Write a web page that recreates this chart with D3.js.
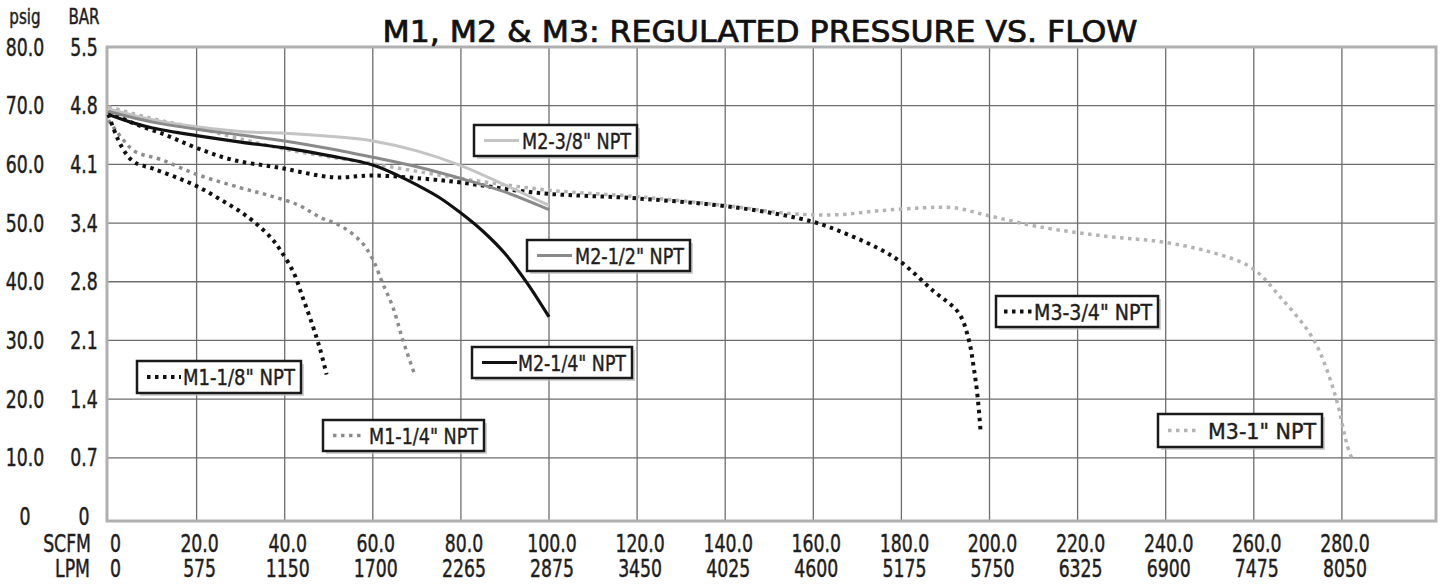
<!DOCTYPE html>
<html><head><meta charset="utf-8">
<script src="https://cdn.jsdelivr.net/npm/d3@7"></script>
<style>body{margin:0;background:#fff} svg{display:block}</style>
</head><body><svg id="c" width="1442" height="584"></svg>
<script>
// ---------- data ----------
const psigTicks = [0,10,20,30,40,50,60,70,80];
const psigLabels = ["0","10.0","20.0","30.0","40.0","50.0","60.0","70.0","80.0"];
const barLabels  = ["0","0.7","1.4","2.1","2.8","3.4","4.1","4.8","5.5"];
const scfmTicks  = [0,20,40,60,80,100,120,140,160,180,200,220,240,260,280];
const scfmLabels = ["0","20.0","40.0","60.0","80.0","100.0","120.0","140.0","160.0","180.0","200.0","220.0","240.0","260.0","280.0"];
const lpmLabels  = ["0","575","1150","1700","2265","2875","3450","4025","4600","5175","5750","6325","6900","7475","8050"];

const seriesNames = ["M2-3/8\" NPT","M2-1/2\" NPT","M2-1/4\" NPT","M1-1/8\" NPT","M1-1/4\" NPT","M3-3/4\" NPT","M3-1\" NPT"];

// [SCFM, psig]
const m2_38 = [[0,69.5],[10,67.6],[20,66.4],[30,65.6],[40,65.3],[50,64.8],[60,64.0],[70,62.3],[80,59.8],[90,56.5],[100,53.0]];
const m2_12 = [[0,69.0],[10,67.2],[20,66.0],[30,65.0],[40,64.0],[50,62.7],[60,61.2],[70,59.6],[80,57.6],[90,55.3],[100,52.3]];
const m2_14 = [[0,68.5],[5,67.2],[10,66.2],[20,64.9],[30,63.8],[40,62.8],[50,61.5],[60,59.9],[66,58.0],[70,56.5],[75,54.4],[80,51.7],[85,48.6],[90,44.8],[95,39.8],[100,34.0]];
const m1_18 = [[0,68.5],[2,64.5],[4,61.8],[6,60.3],[10,59.3],[15,57.9],[20,56.3],[25,54.2],[30,51.9],[34,49.6],[37,47.4],[39,45.4],[42,41.6],[44,37.5],[46,33.3],[48,28.6],[49.5,24.2]];
const m1_14 = [[0,67.5],[3,64.5],[6,62.2],[12,60.8],[20,58.3],[30,56.0],[36,54.8],[43,53.1],[48,51.0],[53,49.4],[57.5,46.7],[60,43.8],[62.2,39.8],[64.5,35.8],[66.8,30.1],[69.5,24.2]];
const m3_34 = [[0,69.0],[5,67.2],[13,65.0],[20,62.8],[28,60.8],[39,59.4],[51,57.8],[60,58.1],[74,57.4],[80,56.9],[98,55.1],[120,54.2],[143,52.6],[160,50.2],[168,48.0],[175,45.6],[180,43.3],[187,38.6],[193,34.7],[195.3,30.1],[196.4,25.5],[197.3,20.4],[198,14.3]];
const m3_1  = [[0,69.8],[10,67.8],[20,66.2],[40,62.6],[60,60.1],[80,57.6],[100,55.6],[120,54.5],[140,53.0],[155,51.6],[165,51.4],[175,52.1],[185,52.6],[192,52.6],[199,51.4],[211,49.4],[227,47.7],[239,46.8],[250,45.1],[259.5,42.4],[266,37.4],[273.6,30.1],[278.3,21.1],[281.3,11.9],[282.5,9.4]];

const seriesData = [m2_38, m2_12, m2_14, m1_18, m1_14, m3_34, m3_1];

// ---------- styles / layout ----------
const styles = [
  {color:"#c4c4c4", dash:null, w:3},
  {color:"#8a8a8a", dash:null, w:3},
  {color:"#111",    dash:null, w:3.2},
  {color:"#111",    dash:"3.5,4.5", w:4},
  {color:"#8c8c8c", dash:"3.5,4.5", w:3.5},
  {color:"#111",    dash:"3.5,4.5", w:4},
  {color:"#b4b4b4", dash:"3.5,4.5", w:3.5}
];
const legendLayout = [
  {x:474, y:125, w:163, h:31, s:[10,45], tx:48},
  {x:527, y:240, w:163, h:31, s:[10,45], tx:48},
  {x:472, y:347, w:160, h:31, s:[10,45], tx:46},
  {x:137, y:361, w:164, h:32, s:[10,44], tx:46},
  {x:323, y:420, w:161, h:31, s:[10,42], tx:46},
  {x:996, y:296, w:162, h:31, s:[8,36], tx:38},
  {x:1158, y:414, w:164, h:33, s:[10,38], tx:50}
];

const FONT = "'Liberation Sans Narrow','Arial Narrow','DejaVu Sans Condensed','Liberation Sans',sans-serif";
const TXT = "#1e1e1e";
const SX = 0.8;

const svg = d3.select("#c");
const x = d3.scaleLinear().domain([0,280]).range([108.5, 108.5 + 14*88.1]);
const y = d3.scaleLinear().domain([0,80]).range([516.5, 47]);
const frame = {l:107, t:47, r:1436, b:521};

function label(px, py, str, size, anchor, sx) {
  return svg.append("text")
    .attr("transform", `translate(${px},${py}) scale(${sx===undefined?SX:sx},1)`)
    .attr("text-anchor", anchor).attr("font-family", FONT)
    .attr("font-size", size).attr("fill", TXT)
    .attr("stroke", TXT).attr("stroke-width", 0.45).text(str);
}

// grid
const g = svg.append("g");
g.selectAll("line.v").data(scfmTicks.slice(1)).join("line")
  .attr("x1", d=>x(d)).attr("x2", d=>x(d)).attr("y1", frame.t).attr("y2", frame.b)
  .attr("stroke","#6e6e6e").attr("stroke-width",1.3);
g.selectAll("line.h").data(psigTicks.slice(1,-1)).join("line")
  .attr("x1", frame.l).attr("x2", frame.r).attr("y1", d=>y(d)).attr("y2", d=>y(d))
  .attr("stroke","#6e6e6e").attr("stroke-width",1.3);
svg.append("rect").attr("x",frame.l).attr("y",frame.t).attr("width",frame.r-frame.l).attr("height",frame.b-frame.t)
  .attr("fill","none").attr("stroke","#b0b0b0").attr("stroke-width",3);

// y labels
label(25, 24, "psig", 21, "middle");
label(84, 24, "BAR", 21, "middle");
psigTicks.forEach((v,i)=>{
  label(25, y(v)+8.5, psigLabels[i], 24, "middle");
  label(84, y(v)+8.5, barLabels[i], 24, "middle");
});
// x labels
label(91, 552, "SCFM", 24, "end");
label(90, 577, "LPM", 24, "end");
scfmTicks.forEach((v,i)=>{
  const cx = i===0 ? x(v)+7 : x(v)+3;
  label(cx, 552, scfmLabels[i], 24, "middle");
  label(cx, 577, lpmLabels[i], 24, "middle");
});

// title
svg.append("text").attr("x",760).attr("y",42).attr("text-anchor","middle").attr("font-family",FONT)
  .attr("font-size",30).attr("fill","#111").attr("stroke","#111").attr("stroke-width",0.7)
  .attr("textLength",755).attr("lengthAdjust","spacingAndGlyphs")
  .text("M1, M2 & M3: REGULATED PRESSURE VS. FLOW");

// curves
const line = d3.line().x(d=>x(d[0])).y(d=>y(d[1])).curve(d3.curveCatmullRom.alpha(0.5));
const order = [6,4,3,5,0,1,2];
order.forEach(i=>{
  const st = styles[i];
  svg.append("path").attr("d", line(seriesData[i])).attr("fill","none")
    .attr("stroke", st.color).attr("stroke-width", st.w)
    .attr("stroke-dasharray", st.dash)
    .attr("stroke-linecap","butt").attr("stroke-linejoin","round");
});

// legends
legendLayout.forEach((L,i)=>{
  const st = styles[i];
  const lg = svg.append("g");
  lg.append("rect").attr("x",L.x+3).attr("y",L.y+3).attr("width",L.w).attr("height",L.h)
    .attr("fill","#bdbdbd").attr("opacity",0.7);
  lg.append("rect").attr("x",L.x).attr("y",L.y).attr("width",L.w).attr("height",L.h)
    .attr("fill","#fff").attr("stroke","#1a1a1a").attr("stroke-width",2.5);
  lg.append("line").attr("x1",L.x+L.s[0]).attr("x2",L.x+L.s[1]).attr("y1",L.y+L.h/2).attr("y2",L.y+L.h/2)
    .attr("stroke",st.color).attr("stroke-width",st.w).attr("stroke-dasharray",st.dash);
  lg.append("text").attr("x",L.x+L.tx).attr("y",L.y+L.h/2+8).attr("font-family",FONT)
    .attr("font-size",22).attr("fill",TXT).attr("stroke",TXT).attr("stroke-width",0.4)
    .attr("textLength",L.w-L.tx-6).attr("lengthAdjust","spacingAndGlyphs")
    .text(seriesNames[i]);
});
</script></body></html>
